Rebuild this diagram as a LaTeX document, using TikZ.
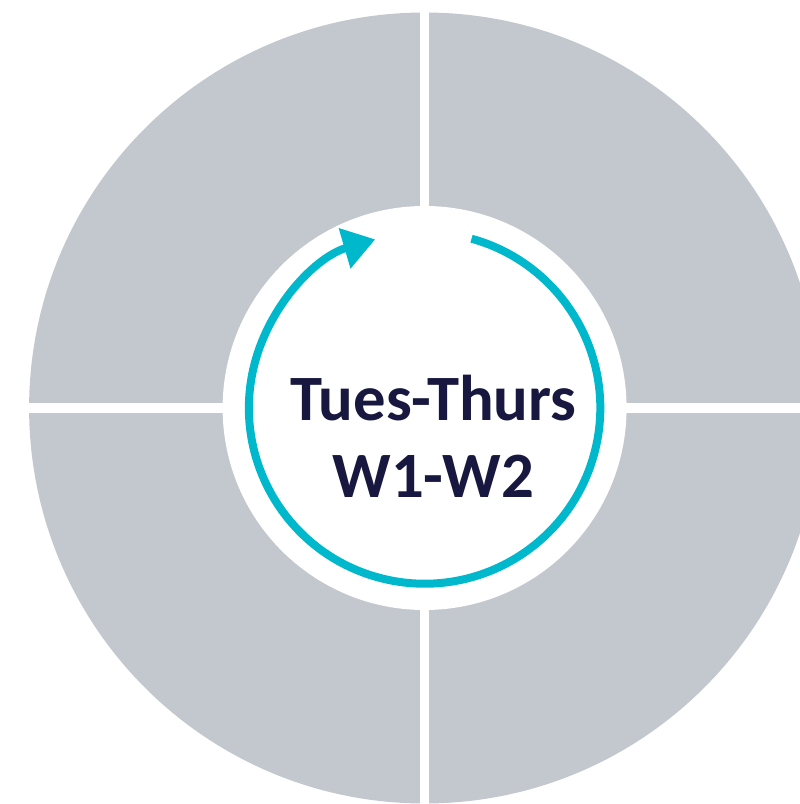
\documentclass[tikz,border=0pt]{standalone}
\usepackage{fontspec}
\setmainfont{Carlito}
\usepackage{tikz}
\usetikzlibrary{calc,arrows.meta}

\definecolor{ringgray}{HTML}{C3C7CE}
\definecolor{cycleteal}{HTML}{00B8CC}
\definecolor{labelnavy}{HTML}{17173F}

\tikzset{
  gapline/.style={white,line width=0.095cm},
  cyclearrow/.style={cycleteal,line width=0.08cm,-{Triangle[length=0.32cm,width=0.40cm]}},
  daytext/.style={labelnavy,font=\fontsize{18.4pt}{22pt}\selectfont\bfseries,anchor=base,inner sep=0pt}
}

\begin{document}
\begin{tikzpicture}[x=1cm,y=1cm]
  \useasboundingbox (0,0) rectangle (8,8.04);
  \clip (0,0) rectangle (8,8.04);
  \coordinate (c) at (4.246,3.96);
  % ring of four quarters
  \fill[ringgray] (c) circle (3.955);
  \draw[gapline] ($(c)+(0,-4.1)$) -- ($(c)+(0,4.1)$);
  \draw[gapline] ($(c)+(-4.1,0)$) -- ($(c)+(4.1,0)$);
  \fill[white] (c) circle (2.02);
  % cycle arrow
  \draw[cyclearrow] ($(c)+(74.5:1.757)$) arc[start angle=74.5,end angle=-253.7,radius=1.757];
  % label
  \node[daytext] (days) at ($(c)+(0.087,-0.12)$) {Tues-Thurs};
  \node[daytext] (weeks) at ($(days.base)+(0,-0.77)$) {W1-W2};
\end{tikzpicture}
\end{document}
